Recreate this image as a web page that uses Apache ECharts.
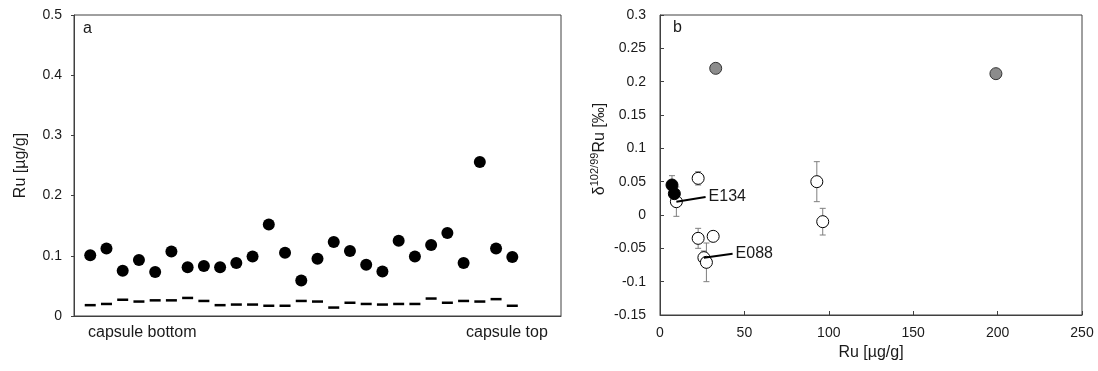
<!DOCTYPE html>
<html>
<head>
<meta charset="utf-8">
<script src="https://cdn.jsdelivr.net/npm/echarts@6/dist/echarts.min.js"></script>
<style>
  html, body { margin: 0; padding: 0; background: #fff; }
  #chart { width: 1098px; height: 371px; }
</style>
</head>
<body>
<div id="chart"></div>
<script>
// panel a: Ru along the capsule, sample position 1 (bottom) .. 27 (top)
const samplePos = [1, 2, 3, 4, 5, 6, 7, 8, 9, 10, 11, 12, 13, 14, 15, 16, 17, 18, 19, 20, 21, 22, 23, 24, 25, 26, 27];
const ruConc = [0.101, 0.112, 0.075, 0.093, 0.073, 0.107, 0.081, 0.083, 0.081, 0.088, 0.099, 0.152, 0.105, 0.059,
  0.095, 0.123, 0.108, 0.085, 0.074, 0.125, 0.099, 0.118, 0.138, 0.088, 0.256, 0.112, 0.098];
const detLimit = [0.018, 0.020, 0.027, 0.024, 0.026, 0.026, 0.030, 0.025, 0.018, 0.019, 0.019, 0.017, 0.017, 0.025,
  0.024, 0.014, 0.022, 0.020, 0.019, 0.020, 0.020, 0.029, 0.022, 0.025, 0.024, 0.028, 0.017];

// panel b: delta102/99Ru vs Ru  [Ru, delta, 2SD]
const greyPts = [[33, 0.220, 0.006], [199, 0.212, 0.006]];
const blackPts = [[7.1, 0.045, 0.014], [8.5, 0.032, 0.010]];
const openPts = [[9.7, 0.020, 0.022], [22.6, 0.055, 0.010], [22.6, -0.035, 0.015], [31.5, -0.032, 0.004],
  [26.0, -0.064, 0.010], [27.5, -0.071, 0.029], [92.9, 0.050, 0.030], [96.4, -0.010, 0.020]];
const labelE134 = [[9.7, 0.020], [27.0, 0.027]];
const labelE088 = [[26.0, -0.064], [43.0, -0.058]];

const FONT = 'Liberation Sans, Arial, sans-serif';
const txt = { color: '#1a1a1a', fontSize: 14, fontFamily: FONT };
const nameTxt = { ...txt, fontSize: 16 };
const axisLine = { show: true, onZero: false, lineStyle: { color: '#404040', width: 1 } };

const errorBars = (pts, idx) => ({
  type: 'custom',
  xAxisIndex: idx, yAxisIndex: idx,
  data: pts,
  silent: true,
  z: 1,
  renderItem: (params, api) => {
    const x = api.value(0), y = api.value(1), e = api.value(2);
    const top = api.coord([x, y + e]);
    const bot = api.coord([x, y - e]);
    const style = { stroke: '#7f7f7f', lineWidth: 1 };
    return {
      type: 'group',
      children: [
        { type: 'line', shape: { x1: top[0], y1: top[1], x2: bot[0], y2: bot[1] }, style },
        { type: 'line', shape: { x1: top[0] - 3, y1: top[1], x2: top[0] + 3, y2: top[1] }, style },
        { type: 'line', shape: { x1: bot[0] - 3, y1: bot[1], x2: bot[0] + 3, y2: bot[1] }, style },
      ],
    };
  },
});

const leader = (pts, name) => ({
  type: 'line',
  xAxisIndex: 1, yAxisIndex: 1,
  data: pts,
  symbol: 'none',
  silent: true,
  z: 4,
  lineStyle: { color: '#000', width: 2 },
  endLabel: { show: true, formatter: name, ...txt, fontSize: 16, distance: 3 },
});

const chart = echarts.init(document.getElementById('chart'));
chart.setOption({
  animation: false,
  grid: [
    { left: 74, top: 15, width: 487, height: 301, show: true, borderColor: '#404040', borderWidth: 1 },
    { left: 660, top: 15, width: 422, height: 300, show: true, borderColor: '#404040', borderWidth: 1 },
  ],
  xAxis: [
    {
      gridIndex: 0, type: 'value', min: 0, max: 30,
      axisLine, axisTick: { show: false }, axisLabel: { show: false }, splitLine: { show: false },
    },
    {
      gridIndex: 1, type: 'value', min: 0, max: 250, interval: 50,
      name: 'Ru [µg/g]', nameLocation: 'middle', nameGap: 28, nameTextStyle: nameTxt,
      axisLine, axisTick: { inside: true, length: 4, lineStyle: { color: '#404040' } },
      axisLabel: { ...txt, margin: 11 }, splitLine: { show: false },
    },
  ],
  yAxis: [
    {
      gridIndex: 0, type: 'value', min: 0, max: 0.5, interval: 0.1,
      name: 'Ru [µg/g]', nameLocation: 'middle', nameGap: 45, nameTextStyle: nameTxt,
      axisLine, axisTick: { length: 3, lineStyle: { color: '#404040' } },
      axisLabel: { ...txt, margin: 12 }, splitLine: { show: false },
    },
    {
      gridIndex: 1, type: 'value', min: -0.15, max: 0.3, interval: 0.05,
      name: '{d|δ}{s|102/99}{d|Ru [‰]}', nameLocation: 'middle', nameGap: 49,
      nameTextStyle: {
        ...txt,
        padding: [0, 0, 0, 32],
        rich: {
          d: { ...txt, fontSize: 16 },
          s: { ...txt, fontSize: 11, verticalAlign: 'top', lineHeight: 22, padding: [0, 0, 8, 0] },
        },
      },
      axisLine, axisTick: { inside: true, length: 4, lineStyle: { color: '#404040' } },
      axisLabel: { ...txt, margin: 14, formatter: v => String(Math.round(v * 100) / 100) },
      splitLine: { show: false },
    },
  ],
  graphic: [
    { type: 'text', left: 83, top: 21, style: { text: 'a', font: '16px ' + FONT, fill: '#1a1a1a' } },
    { type: 'text', left: 673, top: 20, style: { text: 'b', font: '16px ' + FONT, fill: '#1a1a1a' } },
    { type: 'text', left: 88, top: 325, style: { text: 'capsule bottom', font: '16px ' + FONT, fill: '#1a1a1a' } },
    { type: 'text', left: 466, top: 325, style: { text: 'capsule top', font: '16px ' + FONT, fill: '#1a1a1a' } },
  ],
  series: [
    {
      type: 'scatter', xAxisIndex: 0, yAxisIndex: 0,
      data: samplePos.map((p, i) => [p, ruConc[i]]),
      symbol: 'circle', symbolSize: 12, itemStyle: { color: '#000', opacity: 1 },
    },
    {
      type: 'scatter', xAxisIndex: 0, yAxisIndex: 0,
      data: samplePos.map((p, i) => [p, detLimit[i]]),
      symbol: 'rect', symbolSize: [11, 2.5], itemStyle: { color: '#000', opacity: 1 },
    },
    errorBars(greyPts, 1),
    errorBars(blackPts, 1),
    errorBars(openPts, 1),
    leader(labelE134, 'E134'),
    leader(labelE088, 'E088'),
    {
      type: 'scatter', xAxisIndex: 1, yAxisIndex: 1, z: 3,
      data: openPts.map(p => [p[0], p[1]]),
      symbol: 'circle', symbolSize: 12,
      itemStyle: { color: '#fff', borderColor: '#000', borderWidth: 1, opacity: 1 },
    },
    {
      type: 'scatter', xAxisIndex: 1, yAxisIndex: 1, z: 3,
      data: blackPts.map(p => [p[0], p[1]]),
      symbol: 'circle', symbolSize: 12,
      itemStyle: { color: '#000', borderColor: '#000', borderWidth: 1, opacity: 1 },
    },
    {
      type: 'scatter', xAxisIndex: 1, yAxisIndex: 1, z: 3,
      data: greyPts.map(p => [p[0], p[1]]),
      symbol: 'circle', symbolSize: 12,
      itemStyle: { color: '#8c8c8c', borderColor: '#333', borderWidth: 1, opacity: 1 },
    },
  ],
});
</script>
</body>
</html>
